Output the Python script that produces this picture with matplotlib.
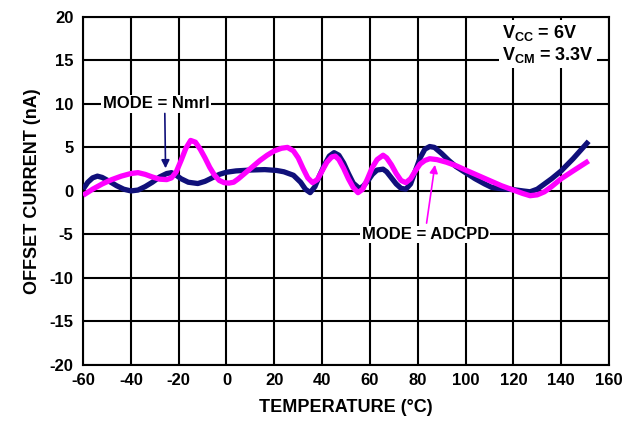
import numpy as np
import matplotlib.pyplot as plt

plt.rcParams['font.family'] = ['Liberation Sans', 'DejaVu Sans']
plt.rcParams['font.weight'] = 'bold'
plt.rcParams['axes.unicode_minus'] = False
plt.rcParams['mathtext.fontset'] = 'custom'
plt.rcParams['mathtext.rm'] = 'Liberation Sans:bold'
plt.rcParams['mathtext.bf'] = 'Liberation Sans:bold'

# -------------------
#    Data
# -------------------
temp_nmrl = [-60, -58, -56, -54, -52, -49, -46, -43, -40, -37, -34, -31, -28, -25, -23,
             -21, -19, -16, -12, -9, -6, -3, 0, 4, 10, 16, 21, 24, 26, 28, 31, 33, 35,
             37, 39, 41, 43, 45, 47, 49, 51, 53, 55.5, 57, 59, 61, 63, 65.5, 67, 69,
             71, 73, 75, 77, 79, 81, 83, 85, 87, 90, 93, 96, 100, 104, 108, 111, 115,
             120, 124, 127, 130, 133, 136, 140, 145, 151.5]
curr_nmrl = [0.2, 1.0, 1.5, 1.7, 1.55, 1.1, 0.6, 0.2, 0.0, 0.1, 0.5, 1.0, 1.6, 2.0, 2.1,
             1.8, 1.4, 1.0, 0.85, 1.1, 1.5, 1.9, 2.15, 2.3, 2.4, 2.45, 2.35, 2.2, 2.0,
             1.8, 1.0, 0.2, -0.2, 0.5, 1.8, 3.0, 4.0, 4.4, 4.1, 3.2, 2.0, 0.9, 0.3, 0.5,
             1.1, 1.9, 2.4, 2.5, 2.2, 1.5, 0.8, 0.3, 0.2, 0.8, 2.3, 3.8, 4.8, 5.1, 5.0,
             4.3, 3.5, 2.8, 2.1, 1.4, 0.8, 0.4, 0.25, 0.15, 0.0, -0.1, 0.2, 0.8, 1.4,
             2.3, 3.7, 5.7]

temp_adcpd = [-60, -56, -52, -48, -44, -40, -37, -34, -31, -28, -25, -23, -21, -19, -17,
              -15, -13, -11, -9, -7, -5, -3, -1, 1, 3, 5, 8, 11, 14, 17, 20, 23, 25.5,
              28, 30, 32, 34, 36, 38, 40, 42, 44, 45.5, 47, 49, 51, 53, 55, 57, 59, 61,
              63, 65.5, 67, 69, 71, 73, 75, 77, 79, 81, 83, 85, 88, 92, 96, 100, 105,
              110, 115, 120, 124, 127, 130, 133, 136, 140, 145, 151.5]
curr_adcpd = [-0.5, 0.2, 0.8, 1.3, 1.7, 2.0, 2.1, 1.9, 1.6, 1.35, 1.3, 1.5, 2.2, 3.5,
              4.9, 5.8, 5.6, 4.8, 3.8, 2.7, 1.8, 1.2, 0.95, 0.9, 1.0, 1.4, 2.1, 2.8, 3.5,
              4.1, 4.6, 4.9, 5.0, 4.6, 3.8, 2.6, 1.5, 0.95, 1.3, 2.3, 3.3, 3.9, 4.0, 3.6,
              2.6, 1.4, 0.4, -0.2, 0.2, 1.4, 2.7, 3.6, 4.1, 3.8, 3.0, 2.0, 1.2, 0.95,
              1.4, 2.3, 3.1, 3.5, 3.7, 3.6, 3.3, 2.9, 2.4, 1.8, 1.2, 0.6, 0.1, -0.3,
              -0.55, -0.45, -0.1, 0.5, 1.4, 2.3, 3.45]

x_ticks = np.arange(-60, 161, 20)
y_ticks = np.arange(-20, 21, 5)

# -------------------
#   Plotting area
# -------------------
fig = plt.figure(figsize=(6.39, 4.21), dpi=100)
ax = fig.add_axes([0.130, 0.133, 0.823, 0.827])

ax.plot(temp_nmrl, curr_nmrl, c='#10107a', lw=3.8, solid_joinstyle='round',
        solid_capstyle='butt', zorder=3)
ax.plot(temp_adcpd, curr_adcpd, c='#ff00ff', lw=3.8, solid_joinstyle='round',
        solid_capstyle='butt', zorder=4)

ax.set_xlim(-60, 160)
ax.set_ylim(-20, 20)
ax.set_xticks(x_ticks)
ax.set_yticks(y_ticks)
ax.tick_params(length=0, labelsize=12)
ax.tick_params(axis='x', pad=6)
ax.tick_params(axis='y', pad=7)
ax.grid(True, color='black', lw=1.5)
ax.set_axisbelow(True)
for s in ax.spines.values():
    s.set_linewidth(1.5)

ax.set_xlabel('TEMPERATURE (°C)', fontsize=13, fontweight='bold', labelpad=8)
ax.set_ylabel('OFFSET CURRENT (nA)', fontsize=13, fontweight='bold', labelpad=6)

# annotations
box = dict(facecolor='white', edgecolor='none', pad=1)
ax.text(-29.5, 10, 'MODE = Nmrl', ha='center', va='center', fontsize=12,
        fontweight='bold', bbox=box, zorder=5)
ax.annotate('', xy=(-25.5, 2.6), xytext=(-25.8, 8.9),
            arrowprops=dict(arrowstyle='-|>', color='#10107a', lw=1.2,
                            mutation_scale=12, shrinkA=0, shrinkB=0), zorder=5)

ax.text(83.2, -5, 'MODE = ADCPD', ha='center', va='center', fontsize=12,
        fontweight='bold', bbox=box, zorder=5)
ax.annotate('', xy=(87.2, 3.0), xytext=(83.7, -3.7),
            arrowprops=dict(arrowstyle='-|>', color='#ff00ff', lw=1.2,
                            mutation_scale=12, shrinkA=0, shrinkB=0), zorder=5)

ax.text(115.3, 18.2, r'V$_{\mathbf{CC}}$ = 6V', ha='left', va='center', fontsize=13,
        fontweight='bold', bbox=dict(facecolor='white', edgecolor='none', pad=2), zorder=5)
ax.text(115.3, 15.6, r'V$_{\mathbf{CM}}$ = 3.3V', ha='left', va='center', fontsize=13,
        fontweight='bold', bbox=dict(facecolor='white', edgecolor='none', pad=2), zorder=5)

plt.savefig('out.png', dpi=100)
plt.close()
